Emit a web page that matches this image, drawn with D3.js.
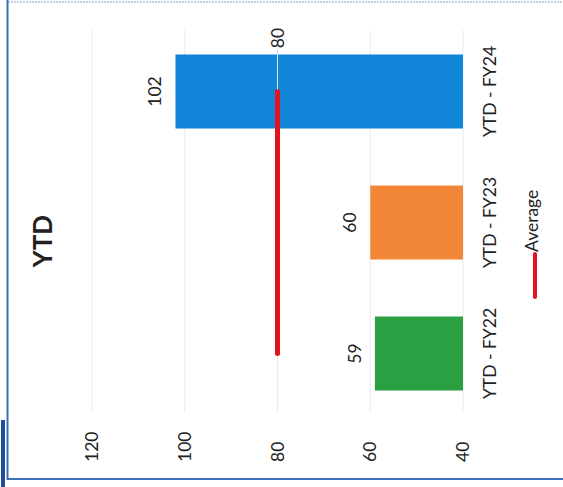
<!DOCTYPE html>
<html>
<head>
<meta charset="utf-8">
<script src="https://cdn.jsdelivr.net/npm/d3@7"></script>
<style>
  html, body { margin: 0; padding: 0; background: #ffffff; }
  svg { display: block; }
  text { font-family: Lato, "Noto Sans", sans-serif; fill: #222; }
</style>
</head>
<body>
<script>
// Chart data
const categories = ["YTD - FY22", "YTD - FY23", "YTD - FY24"];
const values = [59, 60, 102];
const barColors = ["#2aa043", "#f2873a", "#1186d8"];
const averageValues = [80, 80, 80];
const tickValues = [40, 60, 80, 100, 120];
const title = "YTD";
const legendLabel = "Average";

const W = 563, H = 487;
const svg = d3.select("body").append("svg").attr("width", W).attr("height", H);

// Frame around the chart
svg.append("line").attr("x1", 8).attr("x2", W).attr("y1", 2).attr("y2", 2)
  .attr("stroke", "#7aa3d6").attr("stroke-width", 1.2).attr("stroke-dasharray", "2,1");
svg.append("line").attr("x1", 7.5).attr("x2", 7.5).attr("y1", 0).attr("y2", 480)
  .attr("stroke", "#3b6fb8").attr("stroke-width", 2);
svg.append("line").attr("x1", 7).attr("x2", W).attr("y1", 479).attr("y2", 479)
  .attr("stroke", "#3b6fb8").attr("stroke-width", 2);
svg.append("rect").attr("x", 1).attr("y", 420).attr("width", 4).attr("height", 67)
  .attr("fill", "#1f4f9a");

// The chart is laid out as a column chart, then turned a quarter turn
const g = svg.append("g").attr("transform", `translate(0,${H}) rotate(-90)`);

const x = d3.scaleBand().domain(categories).range([68, 461])
  .paddingInner(0.435).paddingOuter(0.2175);
const y = d3.scaleLinear().domain([40, 120]).range([463, 92]);

// Gridlines
g.append("g").selectAll("line").data(tickValues).join("line")
  .attr("x1", 74).attr("x2", 457)
  .attr("y1", d => y(d)).attr("y2", d => y(d))
  .attr("stroke", "#ebebeb").attr("stroke-width", 1);

// Value axis labels
g.append("g").selectAll("text").data(tickValues).join("text")
  .attr("x", 25).attr("y", d => y(d)).attr("dy", "0.35em")
  .attr("text-anchor", "start").style("font-size", "17.5px")
  .text(d => d);

// Bars
g.append("g").selectAll("rect").data(values).join("rect")
  .attr("x", (d, i) => x(categories[i]))
  .attr("width", x.bandwidth())
  .attr("y", d => y(d))
  .attr("height", d => y(40) - y(d))
  .attr("fill", (d, i) => barColors[i]);

// Bar value labels
g.append("g").selectAll("text").data(values).join("text")
  .attr("x", (d, i) => x(categories[i]) + x.bandwidth() / 2)
  .attr("y", d => y(d) - 14)
  .attr("text-anchor", "middle").style("font-size", "17.5px")
  .text(d => d);

// Category labels
g.append("g").selectAll("text").data(categories).join("text")
  .attr("x", d => x(d) + x.bandwidth() / 2)
  .attr("y", 496)
  .attr("text-anchor", "middle").style("font-size", "17.5px")
  .text(d => d);

// Average line
const cx = i => x(categories[i]) + x.bandwidth() / 2;
const line = d3.line().x((d, i) => cx(i)).y(d => y(d));
g.append("path").datum(averageValues)
  .attr("d", line).attr("fill", "none")
  .attr("stroke", "#e1131f").attr("stroke-width", 5).attr("stroke-linecap", "round");

// Label of the last average point with its leader line
const last = averageValues.length - 1;
g.append("line")
  .attr("x1", cx(last) + 2).attr("x2", 438)
  .attr("y1", y(averageValues[last])).attr("y2", y(averageValues[last]))
  .attr("stroke", "#d6e4f2").attr("stroke-width", 1);
g.append("text")
  .attr("x", 449).attr("y", y(averageValues[last])).attr("dy", "0.35em")
  .attr("text-anchor", "middle").style("font-size", "17.5px")
  .text(averageValues[last]);

// Title
g.append("text").attr("x", 246).attr("y", 52)
  .attr("text-anchor", "middle")
  .style("font-size", "26px").style("font-weight", "bold")
  .text(title);

// Legend
g.append("line").attr("x1", 190).attr("x2", 233).attr("y1", 535).attr("y2", 535)
  .attr("stroke", "#e1131f").attr("stroke-width", 4).attr("stroke-linecap", "round");
g.append("text").attr("x", 235).attr("y", 538)
  .attr("text-anchor", "start").style("font-size", "17.5px")
  .text(legendLabel);
</script>
</body>
</html>
